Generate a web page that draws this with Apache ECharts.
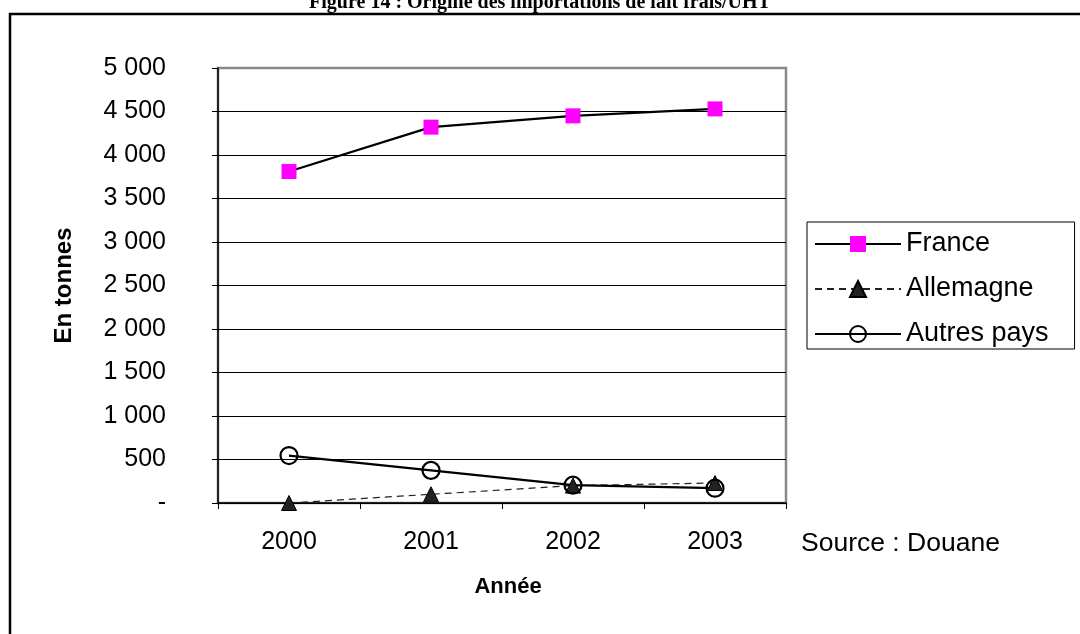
<!DOCTYPE html>
<html>
<head>
<meta charset="utf-8">
<script src="https://cdn.jsdelivr.net/npm/echarts@6/dist/echarts.min.js"></script>
<style>
html,body{margin:0;padding:0;background:#fff;}
#c{width:1080px;height:634px;}
</style>
</head>
<body>
<div id="c"></div>
<script>
const years = ['2000', '2001', '2002', '2003'];
const france = [3810, 4320, 4450, 4530];
const allemagne = [0, 100, 200, 230];
const autresPays = [545, 375, 205, 170];
const yTicks = [0, 500, 1000, 1500, 2000, 2500, 3000, 3500, 4000, 4500, 5000];

const chart = echarts.init(document.getElementById('c'), null, {renderer: 'canvas'});
const font = 'Liberation Sans, Arial, sans-serif';
function fmt(v) {
  if (v === 0) return '-';
  return String(v).replace(/\B(?=(\d{3})+(?!\d))/g, ' ');
}
chart.setOption({
  animation: false,
  backgroundColor: '#fff',
  textStyle: {fontFamily: font},
  graphic: [
    {type: 'rect', shape: {x: 10, y: 14, width: 1100, height: 700}, style: {fill: 'none', stroke: '#000', lineWidth: 2.5}, silent: true},
    {type: 'text', left: 'center', top: -7, style: {text: 'Figure 14 : Origine des importations de lait frais/UHT', font: 'bold 20px "Liberation Serif", "Times New Roman", serif', fill: '#000'}},
    {type: 'text', left: 801, top: 530, style: {text: 'Source : Douane', font: '26.5px "Liberation Sans", Arial, sans-serif', fill: '#000'}}
  ],
  grid: {left: 218, right: 294, top: 68, bottom: 131, show: true, borderColor: '#888', borderWidth: 2.5, backgroundColor: 'transparent'},
  legend: {
    orient: 'vertical',
    left: 807, top: 222,
    padding: [8, 26, 1, 7],
    borderColor: '#000', borderWidth: 1,
    itemWidth: 86, itemHeight: 20, itemGap: 17,
    textStyle: {fontSize: 27, lineHeight: 28, color: '#000', fontFamily: font, padding: [0, 0, 0, 0]},
    data: ['France', 'Allemagne', 'Autres pays']
  },
  xAxis: {
    type: 'category',
    data: years,
    boundaryGap: true,
    name: 'Année',
    nameLocation: 'middle',
    nameGap: 73,
    nameTextStyle: {fontSize: 22, fontWeight: 'bold', color: '#000', fontFamily: font, padding: [0, 0, 0, 12]},
    axisLine: {lineStyle: {color: '#000', width: 1.5}},
    axisTick: {show: true, length: 6, inside: false, lineStyle: {color: '#000'}},
    axisLabel: {fontSize: 25, color: '#000', margin: 27, fontFamily: font},
    splitLine: {show: false}
  },
  yAxis: {
    type: 'value',
    min: 0, max: 5000, interval: 500,
    name: 'En tonnes',
    nameLocation: 'middle',
    nameGap: 142,
    nameRotate: 90,
    nameTextStyle: {fontSize: 24, fontWeight: 'bold', color: '#000', fontFamily: font},
    axisLine: {show: true, lineStyle: {color: '#000', width: 1.5}},
    axisTick: {show: true, length: 6, lineStyle: {color: '#000'}},
    axisLabel: {fontSize: 25, color: '#000', margin: 52, fontFamily: font, formatter: fmt},
    splitLine: {show: true, showMaxLine: false, lineStyle: {color: '#000', width: 1}}
  },
  series: [
    {
      name: 'France', type: 'line', data: france,
      symbol: 'rect', symbolSize: 15,
      lineStyle: {color: '#000', width: 2.2},
      itemStyle: {color: '#FF00FF', borderWidth: 0}
    },
    {
      name: 'Allemagne', type: 'line', data: allemagne,
      symbol: 'triangle', symbolSize: 15,
      lineStyle: {color: '#222', width: 1.2, type: [7, 5]},
      itemStyle: {color: '#222', borderColor: '#000', borderWidth: 1}
    },
    {
      name: 'Autres pays', type: 'line', data: autresPays,
      symbol: 'circle', symbolSize: 17,
      lineStyle: {color: '#000', width: 2.2},
      itemStyle: {color: 'rgba(255,255,255,0)', borderColor: '#000', borderWidth: 2.2}
    }
  ]
});
</script>
</body>
</html>
